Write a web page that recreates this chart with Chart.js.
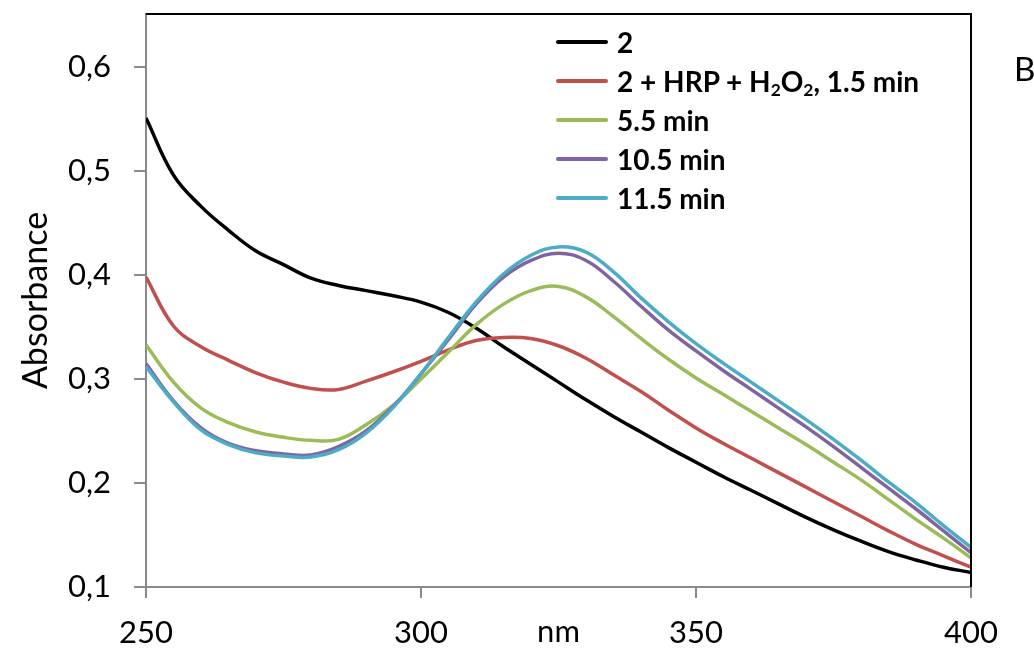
<!DOCTYPE html>
<html>
<head>
<meta charset="utf-8">
<script src="https://cdn.jsdelivr.net/npm/chart.js@4.4.0/dist/chart.umd.min.js"></script>
<style>
  html, body { margin: 0; padding: 0; background: #fff; }
  #wrap { position: relative; width: 1034px; height: 652px; }
  #legend { position: absolute; left: 556px; top: 23px; font: bold 28px Lato, sans-serif; color: #000; }
  .row { display: flex; align-items: center; height: 38.8px; white-space: nowrap; }
  .swatch { width: 52px; height: 4px; border-radius: 2px; margin-right: 9px; }
  .row sub { font-size: 0.62em; vertical-align: -0.25em; line-height: 0; }
  #tag { position: absolute; left: 1014px; top: 48px; font: 33px Lato, sans-serif; color: #000; }
</style>
</head>
<body>
<div id="wrap">
  <canvas id="chart" width="1034" height="652"></canvas>
  <div id="legend"></div>
  <div id="tag">B</div>
</div>
<script>
// wavelength, nm
const wavelengths = [250, 255, 260, 265, 270, 275, 280, 285, 290, 295, 300, 305, 310, 315, 320, 325,
  330, 335, 340, 345, 350, 355, 360, 365, 370, 375, 380, 385, 390, 395, 400];

const seriesNames = ['2', '2 + HRP + H2O2, 1.5 min', '5.5 min', '10.5 min', '11.5 min'];
const seriesColors = ['#000000', '#C0504D', '#9BBB59', '#8064A2', '#4BACC6'];

const abs2 = [0.551, 0.496, 0.466, 0.443, 0.423, 0.410, 0.397, 0.390, 0.385, 0.380, 0.374, 0.364, 0.349,
  0.331, 0.314, 0.297, 0.280, 0.264, 0.249, 0.234, 0.220, 0.206, 0.193, 0.180, 0.167, 0.155, 0.144,
  0.134, 0.126, 0.119, 0.114];
const abs1_5 = [0.398, 0.351, 0.331, 0.318, 0.306, 0.297, 0.291, 0.290, 0.298, 0.307, 0.317, 0.328, 0.337,
  0.340, 0.339, 0.332, 0.320, 0.304, 0.288, 0.270, 0.253, 0.238, 0.224, 0.210, 0.196, 0.182, 0.168,
  0.154, 0.141, 0.130, 0.119];
const abs5_5 = [0.333, 0.297, 0.272, 0.258, 0.249, 0.244, 0.241, 0.242, 0.256, 0.275, 0.300, 0.326, 0.352,
  0.372, 0.385, 0.389, 0.379, 0.360, 0.339, 0.319, 0.301, 0.285, 0.269, 0.253, 0.237, 0.220, 0.203,
  0.184, 0.165, 0.147, 0.128];
const abs10_5 = [0.315, 0.279, 0.253, 0.238, 0.231, 0.228, 0.227, 0.235, 0.250, 0.274, 0.305, 0.338, 0.372,
  0.398, 0.414, 0.421, 0.414, 0.394, 0.370, 0.347, 0.327, 0.308, 0.290, 0.272, 0.254, 0.235, 0.215,
  0.195, 0.175, 0.154, 0.133];
const abs11_5 = [0.312, 0.278, 0.251, 0.237, 0.229, 0.226, 0.225, 0.232, 0.248, 0.273, 0.305, 0.340, 0.374,
  0.401, 0.419, 0.427, 0.422, 0.403, 0.378, 0.355, 0.334, 0.315, 0.297, 0.279, 0.261, 0.242, 0.222,
  0.201, 0.181, 0.159, 0.138];

const xTicks = [250, 300, 350, 400];
const yTicks = [0.1, 0.2, 0.3, 0.4, 0.5, 0.6];

const allSeries = [abs2, abs1_5, abs5_5, abs10_5, abs11_5];
const AXIS_GREY = '#898989';
const FONT = 'Lato, sans-serif';

const datasets = allSeries.map((vals, i) => ({
  label: seriesNames[i],
  data: vals.map((v, k) => ({ x: wavelengths[k], y: v })),
  borderColor: seriesColors[i],
  backgroundColor: seriesColors[i],
  borderWidth: 3.5,
  pointRadius: 0,
  tension: 0.4,
  fill: false,
  order: allSeries.length - i,   // later series on top, like excel
}));

// top/right black frame + "nm" placed on the tick label line
const framePlugin = {
  id: 'frame',
  afterDraw(chart) {
    const { ctx, chartArea: a } = chart;
    ctx.save();
    ctx.strokeStyle = '#000';
    ctx.lineWidth = 2;
    ctx.beginPath();
    ctx.moveTo(a.left, a.top);
    ctx.lineTo(a.right, a.top);
    ctx.lineTo(a.right, a.bottom);
    ctx.stroke();
    const xs = chart.scales.x;
    ctx.fillStyle = '#000';
    ctx.font = '31px ' + FONT;
    ctx.textAlign = 'center';
    ctx.textBaseline = 'middle';
    ctx.fillText('nm', (xs.left + xs.right) / 2, xs.bottom - 20);
    ctx.restore();
  }
};

new Chart(document.getElementById('chart'), {
  type: 'line',
  data: { datasets },
  plugins: [framePlugin],
  options: {
    responsive: false,
    animation: false,
    devicePixelRatio: 1,
    layout: { padding: { top: 14, right: 63, left: 0, bottom: 0 } },
    plugins: { legend: { display: false }, tooltip: { enabled: false } },
    scales: {
      x: {
        type: 'linear',
        min: 250,
        max: 400,
        afterFit: (s) => { s.height = 65; s.paddingLeft = 0; s.paddingRight = 0; },
        afterBuildTicks: (s) => { s.ticks = xTicks.map((v) => ({ value: v })); },
        ticks: { color: '#000', font: { family: FONT, size: 31 }, padding: 16, maxRotation: 0 },
        grid: { drawOnChartArea: false, drawTicks: true, tickLength: 11, color: AXIS_GREY, lineWidth: 2 },
        border: { color: AXIS_GREY, width: 2 },
      },
      y: {
        min: 0.1,
        max: 0.651,
        afterFit: (s) => { s.width = 146; s.paddingTop = 0; s.paddingBottom = 0; },
        afterBuildTicks: (s) => { s.ticks = yTicks.map((v) => ({ value: v })); },
        ticks: {
          color: '#000',
          font: { family: FONT, size: 31 },
          padding: 23,
          callback: (v) => v.toFixed(1).replace('.', ','),
        },
        grid: { drawOnChartArea: false, drawTicks: true, tickLength: 12, color: AXIS_GREY, lineWidth: 2 },
        border: { color: AXIS_GREY, width: 2 },
        title: { display: true, text: 'Absorbance', color: '#000', font: { family: FONT, size: 34 }, padding: { top: 16, bottom: 0 } },
      }
    }
  }
});

// legend in the plot corner, built from the same series lists
const legend = document.getElementById('legend');
seriesNames.forEach((name, i) => {
  const row = document.createElement('div');
  row.className = 'row';
  const sw = document.createElement('span');
  sw.className = 'swatch';
  sw.style.background = seriesColors[i];
  const txt = document.createElement('span');
  txt.innerHTML = name.replace('H2O2', 'H<sub>2</sub>O<sub>2</sub>');
  row.appendChild(sw);
  row.appendChild(txt);
  legend.appendChild(row);
});
</script>
</body>
</html>
